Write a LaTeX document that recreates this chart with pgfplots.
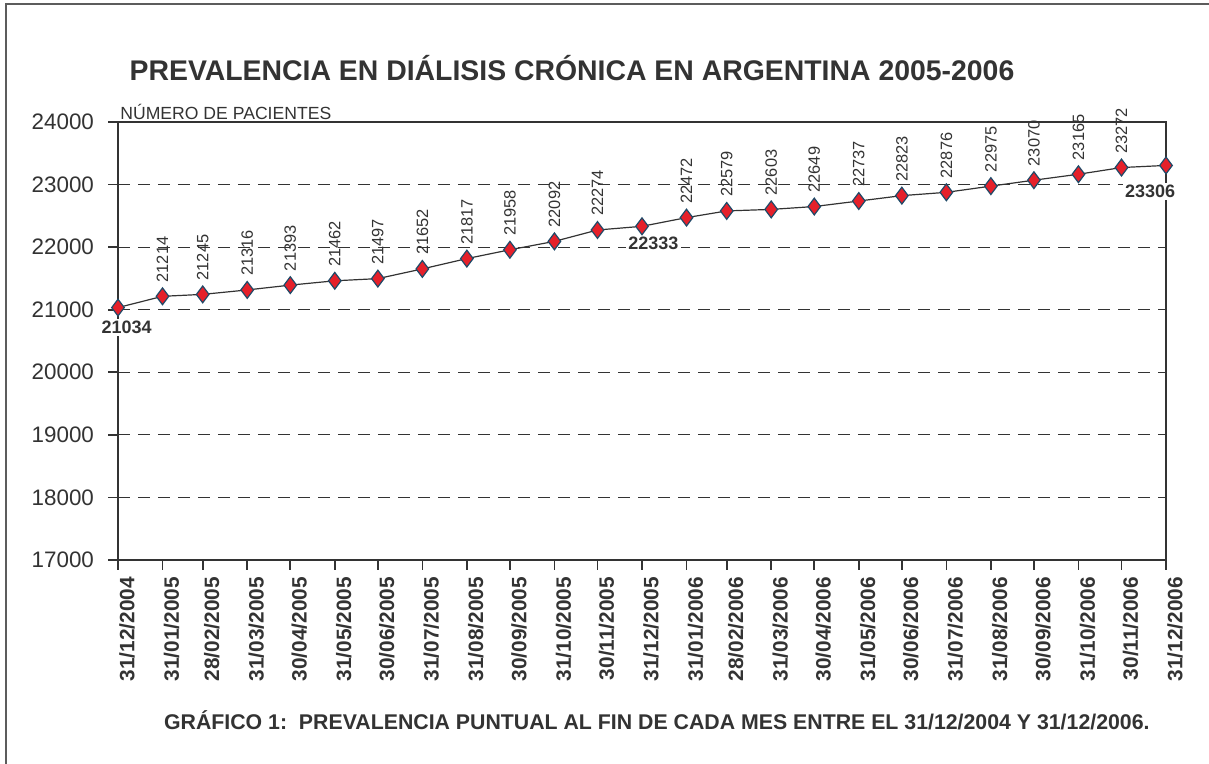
\documentclass[border=0pt]{standalone}
\usepackage{pgfplots}
\pgfplotsset{compat=1.18}
\usepackage{pgfplotstable}
\usepackage{fontspec}
\setmainfont{Liberation Sans}
\definecolor{txt}{HTML}{333333}
\definecolor{mk}{HTML}{E5202A}
\definecolor{mkb}{HTML}{1F4A68}

% day offset from 31/12/2004, patients, month-end date
\pgfplotstableread{
d y lab
0 21034 31/12/2004
31 21214 31/01/2005
59 21245 28/02/2005
90 21316 31/03/2005
120 21393 30/04/2005
151 21462 31/05/2005
181 21497 30/06/2005
212 21652 31/07/2005
243 21817 31/08/2005
273 21958 30/09/2005
304 22092 31/10/2005
334 22274 30/11/2005
365 22333 31/12/2005
396 22472 31/01/2006
424 22579 28/02/2006
455 22603 31/03/2006
485 22649 30/04/2006
516 22737 31/05/2006
546 22823 30/06/2006
577 22876 31/07/2006
608 22975 31/08/2006
638 23070 30/09/2006
669 23165 31/10/2006
699 23272 30/11/2006
730 23306 31/12/2006
}\prev

% points labelled vertically above
\pgfplotstableread{
d y
31 21214
59 21245
90 21316
120 21393
151 21462
181 21497
212 21652
243 21817
273 21958
304 22092
334 22274
396 22472
424 22579
455 22603
485 22649
516 22737
546 22823
577 22876
608 22975
638 23070
669 23165
699 23272
}\prevup

\begin{document}
\begin{tikzpicture}[x=1pt,y=1pt]
\useasboundingbox (0,0) rectangle (604.5,382);
\draw[txt!80, line width=0.7pt] (3,0) -- (3,380) -- (604.5,380);
\node[txt, font=\bfseries\fontsize{14.2}{16}\selectfont] at (286,348) {PREVALENCIA EN DIÁLISIS CRÓNICA EN ARGENTINA 2005-2006};
\node[txt, anchor=west, font=\bfseries\fontsize{10.65}{12}\selectfont] at (78.5,22) {GRÁFICO 1:\ \ PREVALENCIA PUNTUAL AL FIN DE CADA MES ENTRE EL 31/12/2004 Y 31/12/2006.};
\begin{axis}[
  scale only axis, width=524pt, height=219pt,
  at={(59pt,102pt)}, anchor=south west,
  xmin=0, xmax=730, ymin=17000, ymax=24000,
  ytick={17000,18000,...,24000},
  xtick=data, xticklabels from table={\prev}{lab},
  xtick pos=bottom, ytick pos=left,
  scaled y ticks=false,
  tick align=outside, major tick length=5pt,
  axis line style={txt, line width=0.8pt},
  tick style={txt, line width=0.8pt},
  ymajorgrids, grid style={txt, dash pattern=on 6pt off 4pt, line width=0.5pt},
  yticklabel style={/pgf/number format/1000 sep={}, /pgf/number format/assume math mode=true,
    font=\fontsize{11.2}{13}\selectfont, text=txt, xshift=-3.5pt},
  xticklabel style={rotate=90, anchor=east, font=\bfseries\fontsize{10.4}{12}\selectfont, text=txt, yshift=-4.5pt},
  clip=false,
]
\addplot[txt, line width=0.6pt, mark=diamond*, mark size=4.2pt,
  mark options={fill=mk, draw=mkb, line width=0.6pt}] table[x=d,y=y] {\prev};
\addplot[only marks, mark=none, draw=none, nodes near coords,
  point meta=explicit,
  nodes near coords={\pgfmathprintnumber[1000 sep={},assume math mode=true]{\pgfplotspointmeta}},
  every node near coord/.append style={font=\fontsize{8.2}{10}\selectfont, text=txt,
    yshift=3.5pt, rotate=90, anchor=west}]
  table[x=d,y=y,meta=y] {\prevup};
\begin{scope}[every node/.style={txt, fill=white, inner sep=1pt, font=\bfseries\fontsize{9}{11}\selectfont}]
\node at (axis cs:6,20720) {21034};
\node at (axis cs:373,22060) {22333};
\node at (axis cs:719,22890) {23306};
\end{scope}
\node[txt, anchor=south west, inner sep=1pt, font=\fontsize{8.8}{10}\selectfont] at (rel axis cs:0,1) {NÚMERO DE PACIENTES};
\end{axis}
\end{tikzpicture}
\end{document}
